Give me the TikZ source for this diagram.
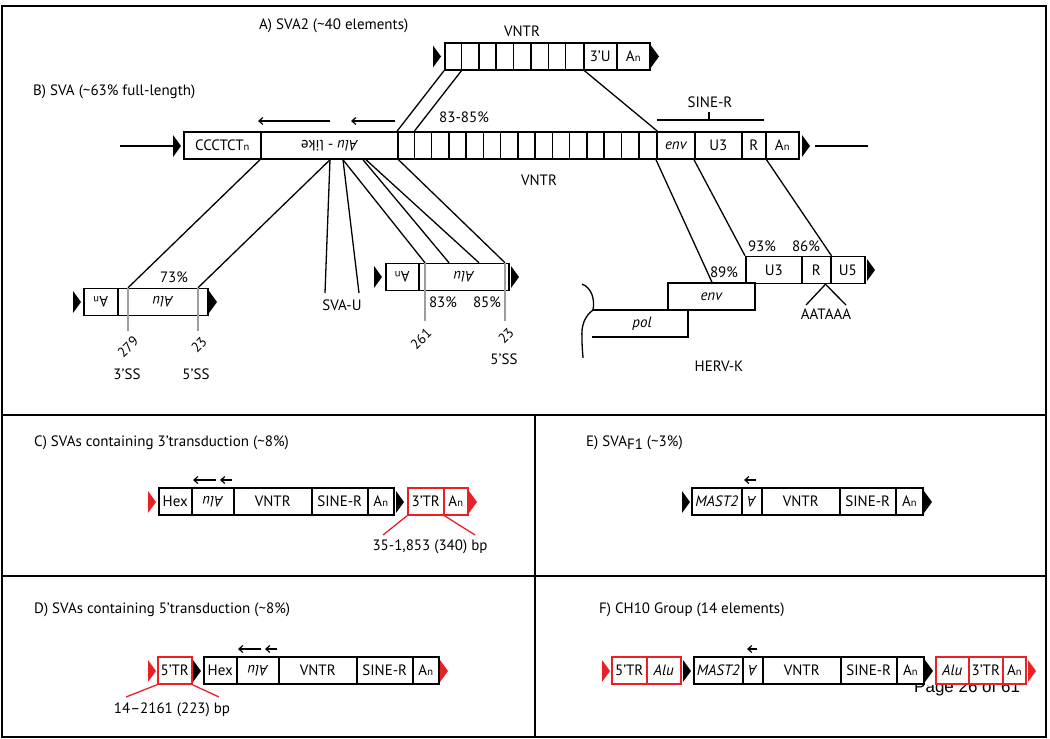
\documentclass[tikz,border=0pt]{standalone}
\usepackage{fontspec}
\setmainfont{PT Sans}
\newfontfamily\footerfont{Liberation Sans}
\usepackage{graphicx}
\usetikzlibrary{arrows.meta}

\definecolor{tsdred}{RGB}{232,33,39}
\definecolor{ssgray}{RGB}{158,158,158}

% small index letter and upside-down labels
\newcommand{\subn}{{\fontsize{10.5}{10.5}\selectfont n}}
\newcommand{\upsd}[1]{\rotatebox[origin=c]{180}{#1}}
% target site duplication
\newcommand{\tsd}[3][black]{\fill[#1] (#2,#3-11) -- (#2+8,#3) -- (#2,#3+11) -- cycle;}

\begin{document}
\begin{tikzpicture}[x=1pt, y=-1pt,
    every node/.style={font=\fontsize{15}{17}\selectfont, inner sep=1pt},
    cell/.style={draw, line width=1.5pt, minimum height=27pt, inner sep=0pt, anchor=west},
    redcell/.style={cell, draw=tsdred},
    title/.style={anchor=west},
    pos45/.style={rotate=45, inner sep=0pt, font=\fontsize{14}{14}\selectfont},
    link/.style={line width=1.3pt},
    redlink/.style={line width=1.3pt, draw=tsdred},
    ssline/.style={line width=1.5pt, draw=ssgray},
    orient/.style={<-, >={Straight Barb[length=4pt,width=7pt]}, line width=1.2pt}]
\useasboundingbox (0,0) rectangle (1050,739);

% frame and panels
\draw[line width=2pt] (2,6) rectangle (1046,737);
\draw[line width=2pt] (2,415) -- (1046,415);
\draw[line width=2pt] (2,576) -- (1046,576);
\draw[line width=2pt] (535,415) -- (535,737);

% A) SVA2
\node[title] (titleA) at (258,26) {A) SVA2 (\textasciitilde40 elements)};
\node (vntrA) at (522,31) {VNTR};
\tsd{433}{56.5}
\node[cell, minimum width=139pt] (avntr) at (444,56.5) {};
\foreach \i in {1,...,7} \draw[line width=1.5pt] (444+\i*17.375,43) -- (444+\i*17.375,70);
\node[cell, minimum width=33pt] (au) at (583,56.5) {3’U};
\node[cell, minimum width=33pt] (aan) at (616,56.5) {A\subn};
\tsd{651}{56.5}

% B) SVA
\node[title] (titleB) at (32,92) {B) SVA (\textasciitilde63\% full-length)};
\coordinate (flankL) at (120,146);
\draw[line width=1.6pt] (flankL) -- (174,146);
\tsd{173}{146}
\node[cell, minimum width=77pt] (ccct) at (183,145.5) {CCCTCT\subn};
\node[cell, minimum width=137pt] (alulike) at (260,145.5) {\upsd{\itshape Alu\upshape\ - like}};
\node[cell, minimum width=259pt] (bvntr) at (397,145.5) {};
\foreach \i in {1,...,14} \draw[line width=1.5pt] (397+\i*17.27,132) -- (397+\i*17.27,159);
\node[cell, minimum width=38pt] (benv) at (656,145.5) {\itshape env};
\node[cell, minimum width=47pt] (bu3) at (694,145.5) {U3};
\node[cell, minimum width=24pt] (br) at (741,145.5) {R};
\node[cell, minimum width=33pt] (ban) at (765,145.5) {A\subn};
\tsd{802}{146}
\coordinate (flankR) at (868,146);
\draw[line width=1.6pt] (815,146) -- (flankR);

\draw[orient] (258,121) -- (330,121);
\draw[orient] (351,121) -- (395,121);
\node (pct8385) at (464,117) {83-85\%};
\node (sineR) at (710,102) {SINE-R};
\draw[line width=1.3pt] (657,120) -- (764,120) (709,120) -- (709,112);
\node (vntrB) at (539,180) {VNTR};

% SVA2 on the VNTR
\draw[link] (avntr.south west) -- (bvntr.north west);
\draw[link] ([xshift=17.4pt]avntr.south west) -- ([xshift=17.27pt]bvntr.north west);
\draw[link] (avntr.south east) -- (bvntr.north east);

% Alu part, left copy
\tsd{73}{302}
\node[cell, minimum width=34pt] (lan) at (83,302) {\upsd{A\subn}};
\node[cell, minimum width=90pt] (lalu) at (117,302) {\upsd{\itshape Alu}};
\tsd{209}{302}
\draw[link] (alulike.south west) -- ([xshift=11pt]lalu.north west);
\draw[link] ([xshift=70pt]alulike.south west) -- ([xshift=81pt]lalu.north west);
\draw[ssline] ([xshift=11pt]lalu.north west) -- ++(0,43);
\draw[ssline] ([xshift=81pt]lalu.north west) -- ++(0,43);
\node (pct73) at (174,277) {73\%};
\node[pos45] (n279) at (128,347) {279};
\node[pos45] (n23a) at (199,345) {23};
\node (ss3) at (127,374) {3’SS};
\node (ss5a) at (196,374) {5’SS};

% SVA-U
\node (svau) at (342,305) {SVA-U};
\coordinate (svau1) at (325,293);
\coordinate (svau2) at (359,293);
\draw[link] ([xshift=70pt]alulike.south west) -- (svau1);
\draw[link] ([xshift=83pt]alulike.south west) -- (svau2);

% Alu part, middle copy
\tsd{374}{277}
\node[cell, minimum width=33pt] (man) at (385,277) {\upsd{A\subn}};
\node[cell, minimum width=90pt] (malu) at (418,277) {\upsd{\itshape Alu}};
\tsd{511}{277}
\draw[link] ([xshift=83pt]alulike.south west) -- ([xshift=7pt]malu.north west);
\draw[link] ([xshift=103pt]alulike.south west) -- ([xshift=31pt]malu.north west);
\draw[link] ([xshift=106pt]alulike.south west) -- ([xshift=61pt]malu.north west);
\draw[link] (alulike.south east) -- ([xshift=87pt]malu.north west);
\draw[ssline] ([xshift=7pt]malu.north west) -- ++(0,58);
\draw[ssline] ([xshift=87pt]malu.north west) -- ++(0,58);
\node (pct83) at (443,302) {83\%};
\node (pct85) at (487,302) {85\%};
\node[pos45] (n261) at (421,339) {261};
\node[pos45] (n23b) at (506,336) {23};
\node (ss5b) at (504,359) {5’SS};

% HERV-K
\node[cell, minimum width=87pt] (henv) at (667,296.5) {\itshape env};
\draw[line width=1.5pt] (592,310) -- (688,310) -- (688,337) -- (592,337);
\node (hpol) at (642,324) {\itshape pol};
\draw[line width=1.3pt] (582,284) .. controls (592,288) and (595,300) .. (593,310)
  .. controls (585,316) and (581,325) .. (582,338) .. controls (582,350) and (583,355) .. (583,358);
\node[cell, minimum width=56pt] (hu3) at (745,270) {U3};
\node[cell, minimum width=29pt] (hr) at (801,270) {R};
\node[cell, minimum width=34pt] (hu5) at (830,270) {U5};
\tsd{867}{270}
\node (pct89) at (724,272) {89\%};
\node (pct93) at (762,246) {93\%};
\node (pct86) at (806,246) {86\%};
\node (aataaa) at (826,314) {AATAAA};
\coordinate (polyAl) at (806,305);
\coordinate (polyAr) at (846,305);
\draw[link] ([xshift=-6pt]hr.south east) -- (polyAl);
\draw[link] ([xshift=-6pt]hr.south east) -- (polyAr);
\node (hervk) at (719,366) {HERV-K};
\draw[link] (benv.south west) -- ([xshift=45pt]henv.north west);
\draw[link] (bu3.south west) -- (hu3.north west);
\draw[link] (br.south east) -- (hr.north east);

% C) 3' transduction
\node[title] (titleC) at (33,443) {C) SVAs containing 3’transduction (\textasciitilde8\%)};
\tsd[tsdred]{148}{502}
\node[cell, minimum width=33pt] (chex) at (158,501.5) {Hex};
\node[cell, minimum width=42pt] (calu) at (191,501.5) {\upsd{\itshape Alu}};
\node[cell, minimum width=78pt] (cvntr) at (233,501.5) {VNTR};
\node[cell, minimum width=56pt] (csine) at (311,501.5) {SINE-R};
\node[cell, minimum width=26pt] (can) at (367,501.5) {A\subn};
\tsd{396}{502}
\node[redcell, minimum width=36pt] (ctr) at (407,501.5) {3’TR};
\node[redcell, minimum width=24pt] (cran) at (443,501.5) {A\subn};
\tsd[tsdred]{469}{502}
\draw[orient] (193,480) -- (216,480);
\draw[orient] (220,480) -- (232,480);
\coordinate (clenL) at (383,535);
\coordinate (clenR) at (475,535);
\draw[redlink] (ctr.south west) -- (clenL);
\draw[redlink] (ctr.south east) -- (clenR);
\node (clen) at (430,547) {35-1,853 (340) bp};

% D) 5' transduction
\node[title] (titleD) at (33,610) {D) SVAs containing 5’transduction (\textasciitilde8\%)};
\tsd[tsdred]{148}{671}
\node[redcell, minimum width=34pt] (dtr) at (157,670.5) {5’TR};
\tsd{193}{671}
\node[cell, minimum width=33pt] (dhex) at (203,670.5) {Hex};
\node[cell, minimum width=42pt] (dalu) at (236,670.5) {\upsd{\itshape Alu}};
\node[cell, minimum width=78pt] (dvntr) at (278,670.5) {VNTR};
\node[cell, minimum width=56pt] (dsine) at (356,670.5) {SINE-R};
\node[cell, minimum width=26pt] (dan) at (412,670.5) {A\subn};
\tsd[tsdred]{440}{671}
\draw[orient] (238,649) -- (261,649);
\draw[orient] (265,649) -- (277,649);
\coordinate (dlenL) at (126,697);
\coordinate (dlenR) at (219,697);
\draw[redlink] (dtr.south west) -- (dlenL);
\draw[redlink] (dtr.south east) -- (dlenR);
\node (dlen) at (172,710) {14–2161 (223) bp};

% E) SVA F1
\node[title] (titleE) at (585,443) {E) SVA\raisebox{-3pt}{F1} (\textasciitilde3\%)};
\tsd{682}{502}
\node[cell, minimum width=50pt] (emast) at (691,501.5) {\itshape MAST2};
\node[cell, minimum width=20pt] (ealu) at (741,501.5) {\upsd{\itshape A}};
\node[cell, minimum width=78pt] (evntr) at (761,501.5) {VNTR};
\node[cell, minimum width=56pt] (esine) at (839,501.5) {SINE-R};
\node[cell, minimum width=27pt] (ean) at (895,501.5) {A\subn};
\tsd{924}{502}
\draw[orient] (744,480) -- (756,480);

% F) CH10 group
\node[title] (titleF) at (598,610) {F) CH10 Group (14 elements)};
\tsd[tsdred]{602}{671}
\node[redcell, minimum width=35pt] (ftr) at (611,670.5) {5’TR};
\node[redcell, minimum width=34pt] (falu) at (646,670.5) {\itshape Alu};
\tsd{683}{671}
\node[cell, minimum width=49pt] (fmast) at (693,670.5) {\itshape MAST2};
\node[cell, minimum width=20pt] (fa) at (742,670.5) {\upsd{\itshape A}};
\node[cell, minimum width=78pt] (fvntr) at (762,670.5) {VNTR};
\node[cell, minimum width=56pt] (fsine) at (840,670.5) {SINE-R};
\node[cell, minimum width=27pt] (fan) at (896,670.5) {A\subn};
\tsd{925}{671}
\node[redcell, minimum width=33pt] (falu2) at (935,670.5) {\itshape Alu};
\node[redcell, minimum width=34pt] (ftr2) at (968,670.5) {3’TR};
\node[redcell, minimum width=23pt] (fran) at (1002,670.5) {A\subn};
\tsd[tsdred]{1028}{671}
\draw[orient] (747,649) -- (757,649);

% page footer showing through
\begin{scope}
\clip (900,685.5) rectangle (1030,700);
\node[font={\footerfont\fontsize{17}{17}\selectfont}, anchor=base west] (footer) at (913,692) {Page 26 of 61};
\end{scope}
\end{tikzpicture}
\end{document}
